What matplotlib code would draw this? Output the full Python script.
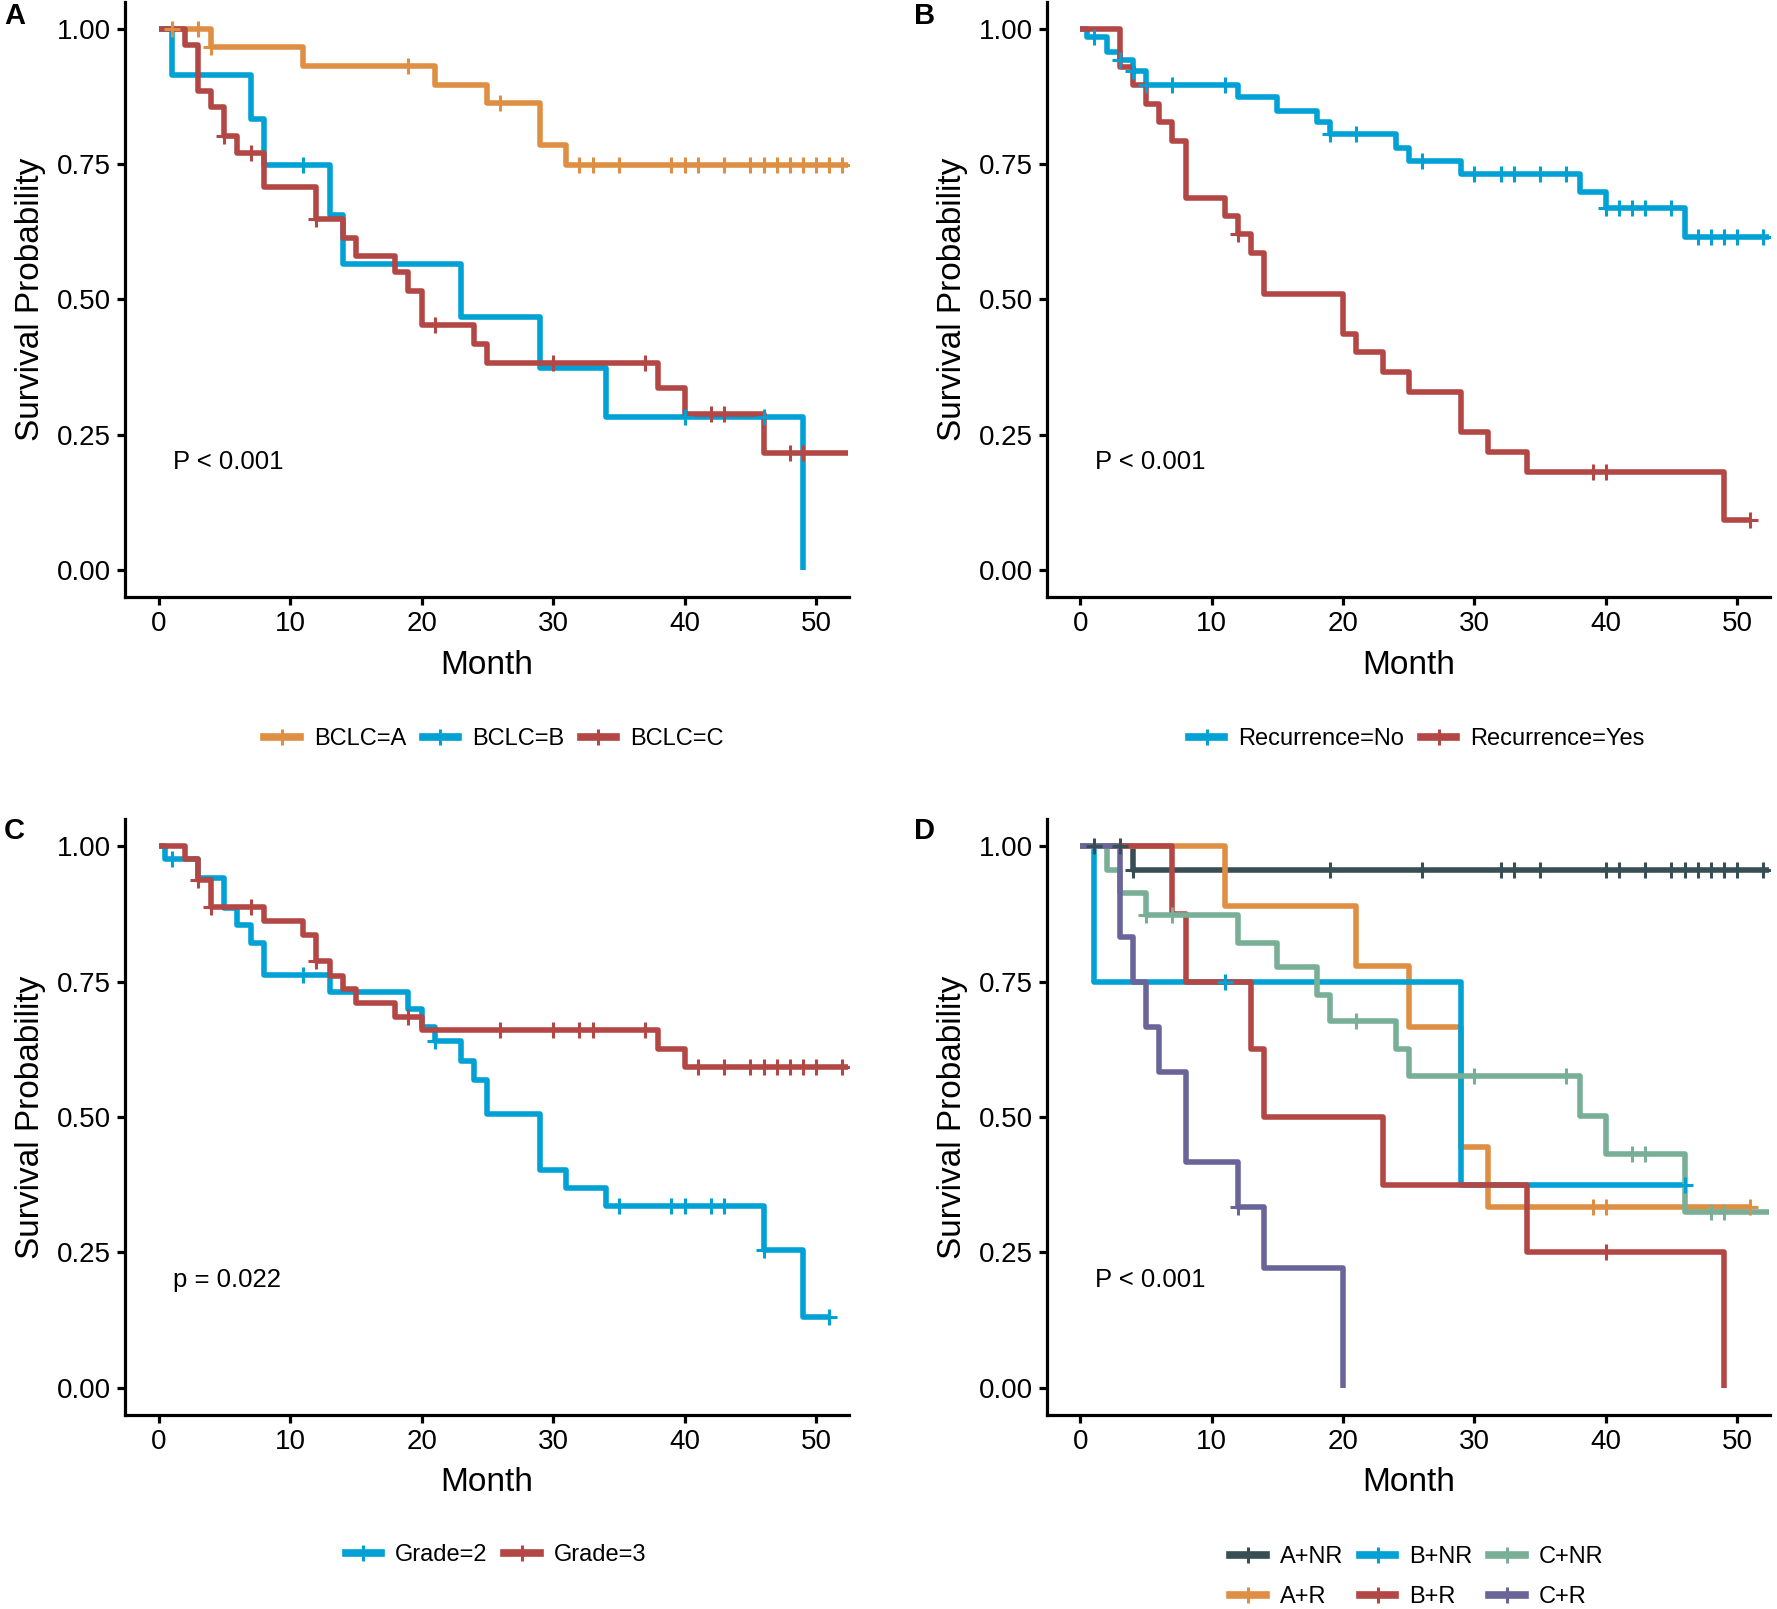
import numpy as np
import matplotlib
matplotlib.use("Agg")
import matplotlib.pyplot as plt
from matplotlib.lines import Line2D

plt.rcParams['font.family'] = ['Liberation Sans', 'DejaVu Sans']

# ---------------- colours (JAMA-like palette) ----------------
C_DARK = "#374E55"
C_ORANGE = "#DF8F44"
C_BLUE = "#00A1D5"
C_RED = "#B24745"
C_GREEN = "#79AF97"
C_PURPLE = "#6A6599"

# ---------------- Panel A : BCLC ----------------
a_A_times = [4, 11, 21, 25, 29, 31]
a_A_surv = [0.967, 0.931, 0.896, 0.862, 0.786, 0.749]
a_A_cens = [1, 3, 4, 19, 26, 32, 33, 35, 39, 40, 41, 43, 45, 46, 47, 48, 49, 50, 51, 52]
a_A_end = 52.4

a_B_times = [1, 7, 8, 13, 14, 23, 29, 34, 49]
a_B_surv = [0.915, 0.833, 0.749, 0.656, 0.565, 0.468, 0.373, 0.283, 0.0]
a_B_cens = [11, 40, 46]
a_B_end = 49

a_C_times = [2, 3, 4, 5, 6, 8, 12, 14, 15, 18, 19, 20, 24, 25, 38, 40, 46]
a_C_surv = [0.970, 0.885, 0.855, 0.802, 0.770, 0.707, 0.649, 0.613, 0.581, 0.550,
            0.516, 0.452, 0.418, 0.383, 0.336, 0.288, 0.216]
a_C_cens = [5, 7, 12, 21, 30, 37, 42, 43, 48, 49]
a_C_end = 52.4

# ---------------- Panel B : Recurrence ----------------
b_No_times = [0.5, 2, 3, 4, 5, 12, 15, 18, 19, 24, 25, 29, 38, 40, 46]
b_No_surv = [0.985, 0.957, 0.942, 0.922, 0.896, 0.873, 0.848, 0.827, 0.806, 0.779,
             0.756, 0.731, 0.698, 0.668, 0.615]
b_No_cens = [1, 3, 4, 5, 7, 11, 19, 21, 26, 30, 32, 33, 35, 37, 40, 41, 42, 43, 45,
             47, 48, 49, 50, 52]
b_No_end = 52.4

b_Yes_times = [3, 4, 5, 6, 7, 8, 11, 12, 13, 14, 20, 21, 23, 25, 29, 31, 34, 49]
b_Yes_surv = [0.929, 0.896, 0.861, 0.827, 0.792, 0.688, 0.654, 0.620, 0.585, 0.510,
              0.437, 0.403, 0.366, 0.329, 0.256, 0.219, 0.182, 0.092]
b_Yes_cens = [12, 39, 40, 51]
b_Yes_end = 51

# ---------------- Panel C : Grade ----------------
c_G2_times = [0.5, 3, 5, 6, 7, 8, 13, 19, 20, 21, 23, 24, 25, 29, 31, 34, 46, 49]
c_G2_surv = [0.977, 0.942, 0.886, 0.854, 0.822, 0.762, 0.730, 0.699, 0.667, 0.640,
             0.603, 0.568, 0.505, 0.402, 0.369, 0.335, 0.254, 0.131]
c_G2_cens = [1, 11, 21, 35, 39, 40, 42, 43, 46, 51]
c_G2_end = 51

c_G3_times = [2, 3, 4, 8, 11, 12, 13, 14, 15, 18, 20, 38, 40]
c_G3_surv = [0.977, 0.937, 0.887, 0.862, 0.836, 0.787, 0.760, 0.737, 0.711, 0.685,
             0.660, 0.626, 0.593]
c_G3_cens = [3, 4, 7, 12, 19, 26, 30, 32, 33, 37, 41, 43, 45, 46, 47, 48, 49, 50, 52]
c_G3_end = 52.4

# ---------------- Panel D : BCLC + Recurrence ----------------
d_ANR_times = [4]
d_ANR_surv = [0.956]
d_ANR_cens = [1, 3, 4, 19, 26, 32, 33, 35, 40, 41, 43, 45, 46, 47, 48, 49, 50, 52]
d_ANR_end = 52.4

d_AR_times = [11, 21, 25, 29, 31]
d_AR_surv = [0.889, 0.778, 0.667, 0.445, 0.334]
d_AR_cens = [39, 40, 51]
d_AR_end = 51

d_BNR_times = [1, 29]
d_BNR_surv = [0.75, 0.375]
d_BNR_cens = [11, 46]
d_BNR_end = 46

d_BR_times = [7, 8, 13, 14, 23, 34, 49]
d_BR_surv = [0.875, 0.75, 0.625, 0.5, 0.375, 0.25, 0.0]
d_BR_cens = [40]
d_BR_end = 49

d_CNR_times = [2, 3, 5, 12, 15, 18, 19, 24, 25, 38, 40, 46]
d_CNR_surv = [0.956, 0.914, 0.873, 0.822, 0.776, 0.726, 0.678, 0.625, 0.575, 0.501,
              0.432, 0.324]
d_CNR_cens = [5, 7, 21, 30, 37, 42, 43, 48, 49]
d_CNR_end = 52.4

d_CR_times = [3, 4, 5, 6, 8, 12, 14, 20]
d_CR_surv = [0.833, 0.75, 0.667, 0.583, 0.417, 0.333, 0.222, 0.0]
d_CR_cens = [12]
d_CR_end = 20

x_ticks = [0, 10, 20, 30, 40, 50]
y_ticks = [0.00, 0.25, 0.50, 0.75, 1.00]
y_ticklabels = ["0.00", "0.25", "0.50", "0.75", "1.00"]

# ---------------- figure ----------------
W, H = 1777, 1609
fig = plt.figure(figsize=(W / 100, H / 100), dpi=100)

LW = 4.0
MS = 12
MEW = 2.2


def add_axes_px(x0, x1, y0, y1):
    return fig.add_axes([x0 / W, 1 - y1 / H, (x1 - x0) / W, (y1 - y0) / H])


def km(ax, times, surv, cens, end, color):
    t = np.r_[0.0, np.asarray(times, float), end]
    s = np.r_[1.0, np.asarray(surv, float), surv[-1]]
    ax.step(t, s, where="post", color=color, lw=LW, solid_capstyle="butt",
            solid_joinstyle="round", zorder=3)
    tt = np.asarray(times, float)
    ss = np.asarray(surv, float)
    idx = np.searchsorted(tt, np.asarray(cens, float), side="right")
    cy = np.where(idx == 0, 1.0, ss[np.maximum(idx - 1, 0)])
    ax.plot(cens, cy, ls="none", marker="+", ms=MS, mew=MEW, color=color, zorder=4)


def style(ax, ptext):
    ax.set_xlim(-2.55, 52.5)
    ax.set_ylim(-0.05, 1.05)
    ax.set_xticks(x_ticks)
    ax.set_yticks(y_ticks)
    ax.set_yticklabels(y_ticklabels)
    for sp in ["top", "right"]:
        ax.spines[sp].set_visible(False)
    for sp in ["left", "bottom"]:
        ax.spines[sp].set_linewidth(2.3)
    ax.tick_params(axis="both", which="major", length=6, width=2.3,
                   labelsize=20, color="black", labelcolor="black", pad=4)
    ax.set_xlabel("Month", fontsize=24, labelpad=9)
    ax.set_ylabel("Survival Probability", fontsize=24, labelpad=8)
    ax.text(1.1, 0.2, ptext, fontsize=18.5, ha="left", va="center")


def legend(handles_labels, cx, cy, ncol, lspace=0.55):
    handles = [Line2D([], [], color=c, lw=5.5, marker="+", ms=MS, mew=MEW)
               for c, _ in handles_labels]
    labels = [l for _, l in handles_labels]
    fig.legend(handles, labels, loc="center", bbox_to_anchor=(cx / W, 1 - cy / H),
               ncol=ncol, frameon=False, fontsize=17, handlelength=1.5,
               handletextpad=0.6, columnspacing=0.7, labelspacing=lspace,
               borderaxespad=0, borderpad=0)


# Panel A
axA = add_axes_px(125, 849, 1.6, 597.3)
km(axA, a_A_times, a_A_surv, a_A_cens, a_A_end, C_ORANGE)
km(axA, a_B_times, a_B_surv, a_B_cens, a_B_end, C_BLUE)
km(axA, a_C_times, a_C_surv, a_C_cens, a_C_end, C_RED)
style(axA, "P < 0.001")
legend([(C_ORANGE, "BCLC=A"), (C_BLUE, "BCLC=B"), (C_RED, "BCLC=C")], 494, 739, 3)

# Panel B
axB = add_axes_px(1047, 1770, 1.6, 597.3)
km(axB, b_No_times, b_No_surv, b_No_cens, b_No_end, C_BLUE)
km(axB, b_Yes_times, b_Yes_surv, b_Yes_cens, b_Yes_end, C_RED)
style(axB, "P < 0.001")
legend([(C_BLUE, "Recurrence=No"), (C_RED, "Recurrence=Yes")], 1417, 739, 2)

# Panel C
axC = add_axes_px(125, 849, 819, 1415)
km(axC, c_G2_times, c_G2_surv, c_G2_cens, c_G2_end, C_BLUE)
km(axC, c_G3_times, c_G3_surv, c_G3_cens, c_G3_end, C_RED)
style(axC, "p = 0.022")
legend([(C_BLUE, "Grade=2"), (C_RED, "Grade=3")], 496, 1555, 2)

# Panel D
axD = add_axes_px(1047, 1770, 819, 1415)
km(axD, d_ANR_times, d_ANR_surv, d_ANR_cens, d_ANR_end, C_DARK)
km(axD, d_AR_times, d_AR_surv, d_AR_cens, d_AR_end, C_ORANGE)
km(axD, d_BNR_times, d_BNR_surv, d_BNR_cens, d_BNR_end, C_BLUE)
km(axD, d_BR_times, d_BR_surv, d_BR_cens, d_BR_end, C_RED)
km(axD, d_CNR_times, d_CNR_surv, d_CNR_cens, d_CNR_end, C_GREEN)
km(axD, d_CR_times, d_CR_surv, d_CR_cens, d_CR_end, C_PURPLE)
style(axD, "P < 0.001")
legend([(C_DARK, "A+NR"), (C_ORANGE, "A+R"), (C_BLUE, "B+NR"), (C_RED, "B+R"),
        (C_GREEN, "C+NR"), (C_PURPLE, "C+R")], 1417, 1577, 3, lspace=0.75)

# panel letters
for lab, x, y in [("A", 4, 16), ("B", 914, 16), ("C", 4, 831), ("D", 914, 831)]:
    fig.text(x / W, 1 - y / H, lab, fontsize=21, fontweight="bold",
             ha="left", va="center")

fig.savefig("out.png", dpi=100)
